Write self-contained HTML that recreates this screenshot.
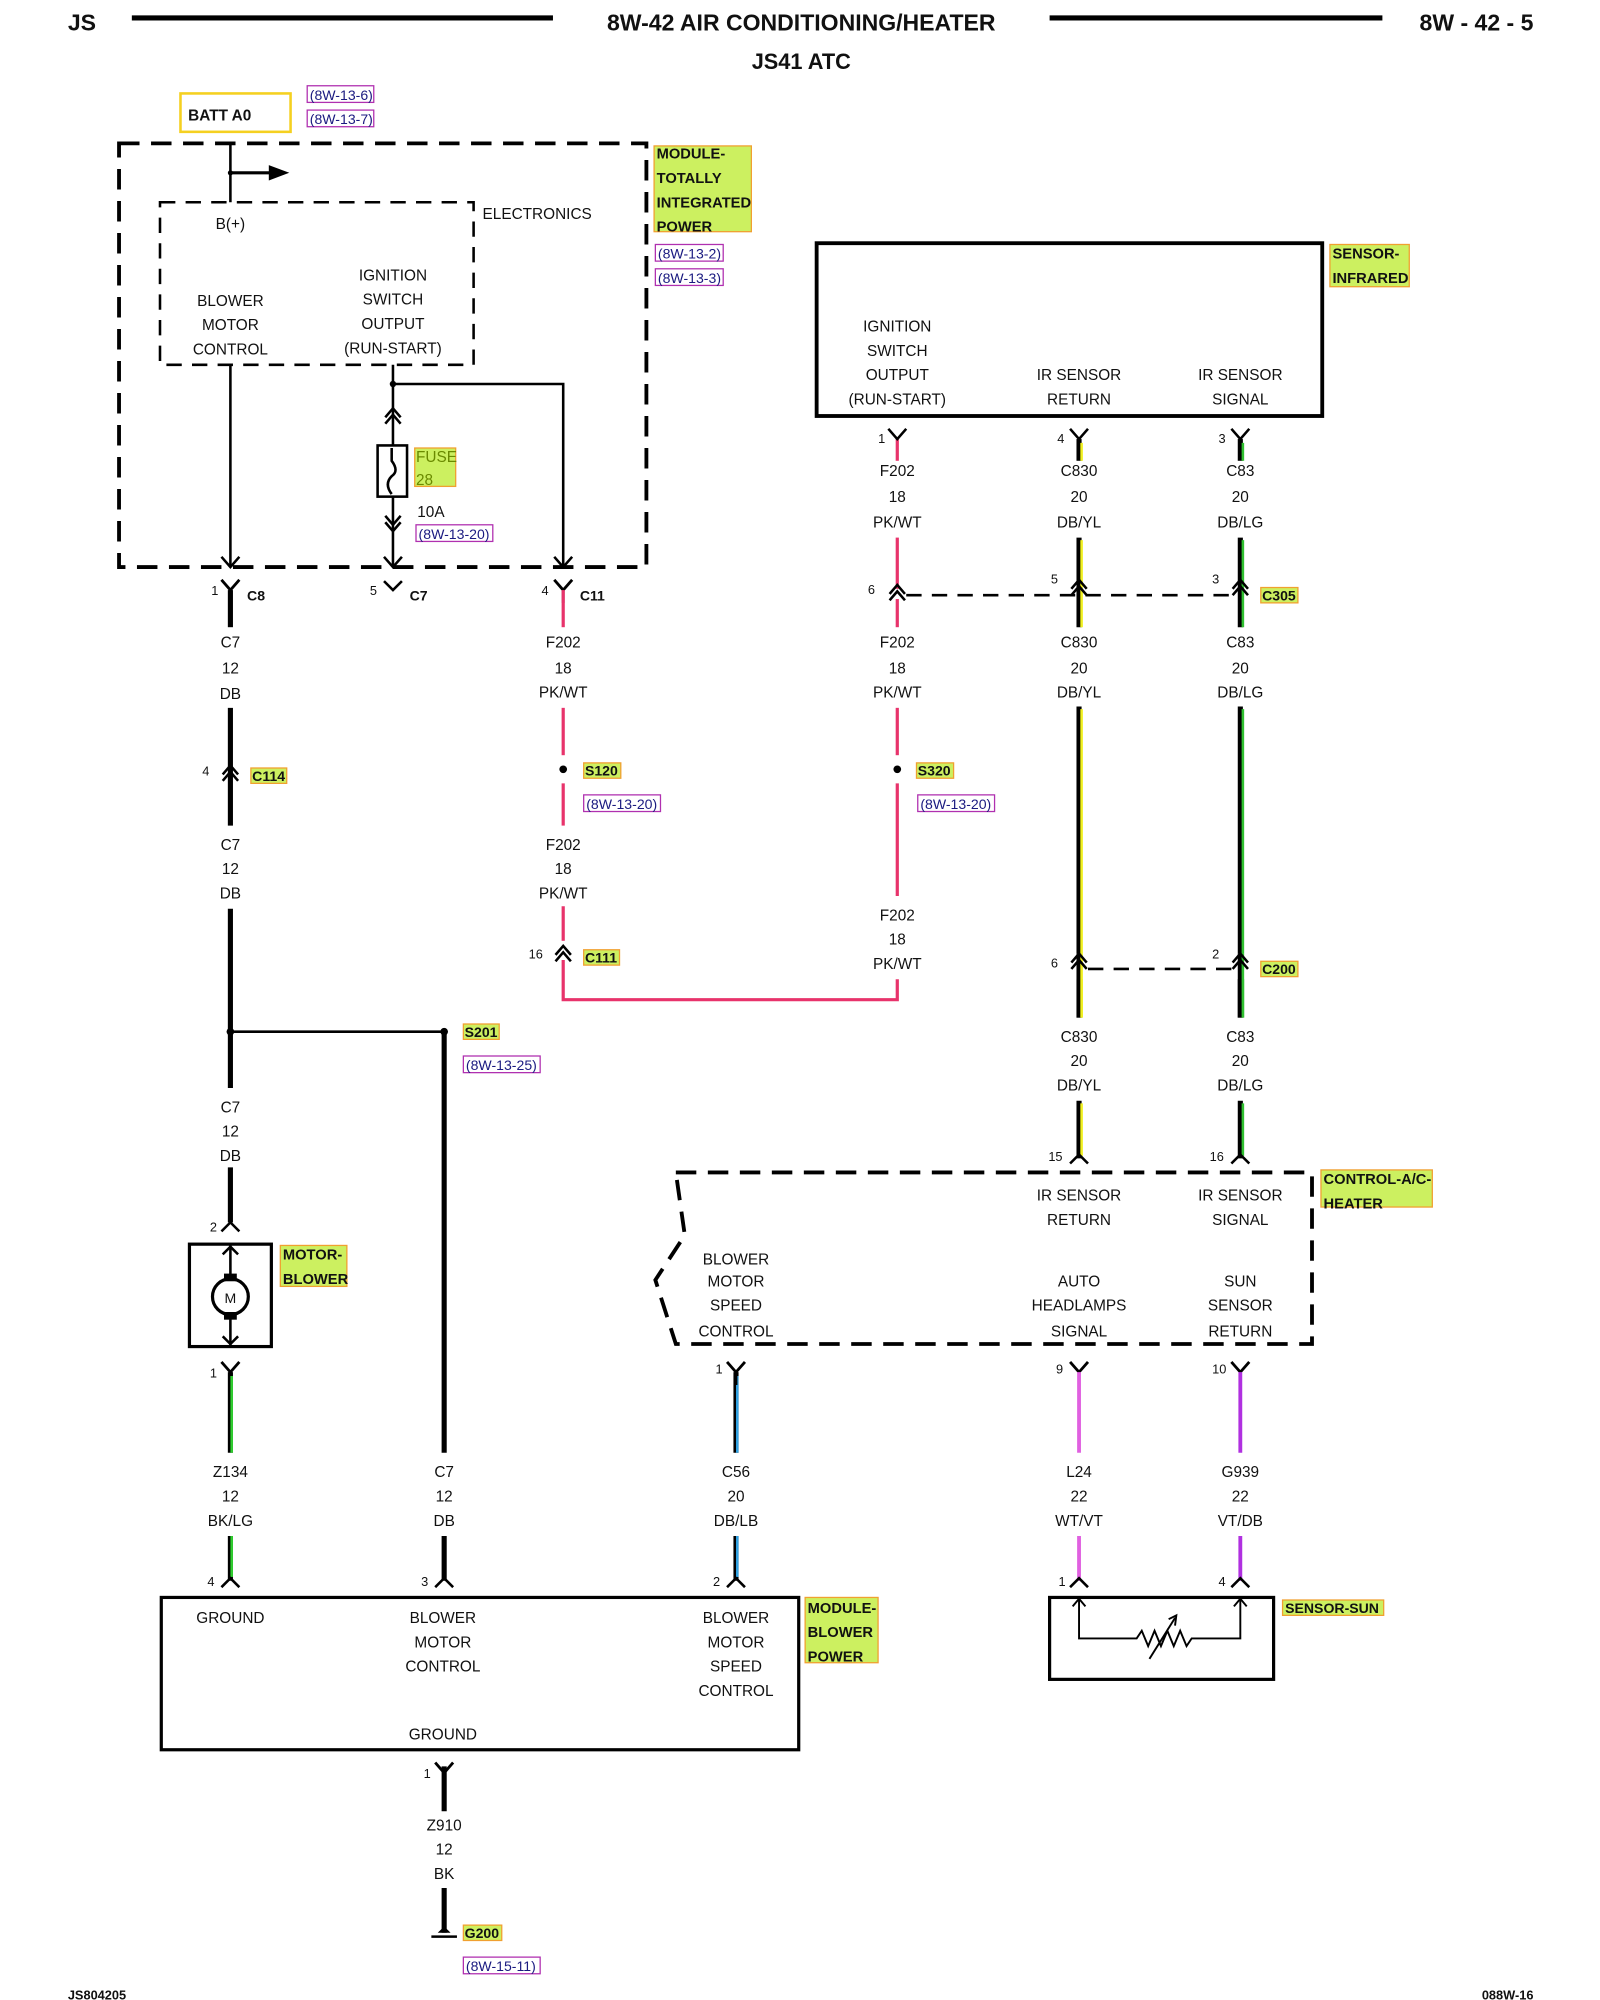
<!DOCTYPE html>
<html><head><meta charset="utf-8"><style>
html,body{margin:0;padding:0;background:#fff}
svg{display:block}
text{font-family:"Liberation Sans",sans-serif;font-size:12px;fill:#111}
.c{text-anchor:middle}
.b{font-weight:bold}
.lbl{font-weight:bold;font-size:11.5px}
.ref{font-size:11px;fill:#1a1a80}
</style></head><body>
<svg width="1600" height="2000" viewBox="0 0 1250 1562.5" xmlns="http://www.w3.org/2000/svg">
<defs>
<g id="yc"><path d="M-7,-8 L0,0 L7,-8 M0,0 V10" stroke="#000" stroke-width="2.2" fill="none"/></g>
<g id="ch"><path d="M-6,4 L0,-3 L6,4 M-6,9 L0,2 L6,9" stroke="#000" stroke-width="2" fill="none"/></g>
<g id="chd"><path d="M-6,-4 L0,3 L6,-4 M-6,-9 L0,-2 L6,-9" stroke="#000" stroke-width="2" fill="none"/></g>
</defs>
<!-- header -->
<text x="53" y="24" class="b" font-size="18" style="font-size:18px">JS</text>
<line x1="103" y1="14" x2="432" y2="14" stroke="#000" stroke-width="4"/>
<text x="626" y="24" class="c b" style="font-size:18px">8W-42 AIR CONDITIONING/HEATER</text>
<line x1="820" y1="14" x2="1080" y2="14" stroke="#000" stroke-width="4"/>
<text x="1198" y="24" class="b" style="font-size:18px" text-anchor="end">8W - 42 - 5</text>
<text x="626" y="54" class="c b" style="font-size:17px">JS41 ATC</text>

<!-- BATT -->
<rect x="141" y="73" width="86" height="30" fill="none" stroke="#f5d020" stroke-width="2"/>
<text x="147" y="94" class="b" style="font-size:12px">BATT A0</text>
<rect x="240" y="67" width="52" height="13" fill="none" stroke="#b030b0"/><text x="242" y="78" class="ref">(8W-13-6)</text>
<rect x="240" y="86" width="52" height="13" fill="none" stroke="#b030b0"/><text x="242" y="97" class="ref">(8W-13-7)</text>

<!-- TIPM -->
<rect x="93" y="112" width="412" height="331" fill="none" stroke="#000" stroke-width="3" stroke-dasharray="16,9"/>
<rect x="125" y="158" width="245" height="127" fill="none" stroke="#000" stroke-width="2" stroke-dasharray="12,8"/>
<text x="377" y="171">ELECTRONICS</text>
<rect x="511" y="114" width="76" height="67" fill="#ccf060" stroke="#f0a030"/>
<text x="513" y="124" class="lbl">MODULE-</text><text x="513" y="143" class="lbl">TOTALLY</text><text x="513" y="162" class="lbl">INTEGRATED</text><text x="513" y="181" class="lbl">POWER</text>
<rect x="512" y="191" width="53" height="13" fill="none" stroke="#b030b0"/><text x="514" y="202" class="ref">(8W-13-2)</text>
<rect x="512" y="210" width="53" height="13" fill="none" stroke="#b030b0"/><text x="514" y="221" class="ref">(8W-13-3)</text>
<line x1="180" y1="112" x2="180" y2="158" stroke="#000" stroke-width="2"/>
<line x1="180" y1="135" x2="212" y2="135" stroke="#000" stroke-width="2.5"/>
<path d="M210,129 L226,135 L210,141Z"/>
<circle cx="180" cy="135" r="2"/>
<text x="180" y="179" class="c">B(+)</text>
<text x="180" y="239" class="c">BLOWER</text><text x="180" y="258" class="c">MOTOR</text><text x="180" y="277" class="c">CONTROL</text>
<text x="307" y="219" class="c">IGNITION</text><text x="307" y="238" class="c">SWITCH</text><text x="307" y="257" class="c">OUTPUT</text><text x="307" y="276" class="c">(RUN-START)</text>
<g stroke="#000" stroke-width="2" fill="none">
<line x1="180" y1="285" x2="180" y2="443"/><path d="M173,435 L180,443 L187,435"/>
<line x1="307" y1="285" x2="307" y2="443"/><path d="M300,435 L307,443 L314,435"/>
<polyline points="307,300 440,300 440,443"/><path d="M433,435 L440,443 L447,435"/>
<rect x="295" y="348" width="23" height="40" fill="#fff"/>
<path d="M306,350 V360 Q312,368 306,372 Q300,378 306,386"/>
</g>
<circle cx="307" cy="300" r="2.5"/>
<use href="#ch" x="307" y="322"/><use href="#chd" x="307" y="412"/>
<rect x="324" y="350" width="32" height="30" fill="#ccf060" stroke="#f0a030"/>
<text x="325" y="361" style="fill:#6a8a00">FUSE</text><text x="325" y="379" style="fill:#6a8a00">28</text>
<text x="326" y="404">10A</text>
<rect x="325" y="410" width="60" height="13" fill="none" stroke="#b030b0"/><text x="327" y="421" class="ref">(8W-13-20)</text>

<!-- connectors under TIPM -->
<use href="#yc" x="180" y="461"/><text x="165" y="465" style="font-size:10px">1</text><text x="193" y="469" class="b" style="font-size:11px">C8</text>
<path d="M300,454 L307,461 L314,454" stroke="#000" stroke-width="2" fill="none"/><text x="289" y="465" style="font-size:10px">5</text><text x="320" y="469" class="b" style="font-size:11px">C7</text>
<use href="#yc" x="440" y="461"/><text x="423" y="465" style="font-size:10px">4</text><text x="453" y="469" class="b" style="font-size:11px">C11</text>

<!-- x=180 black wire -->
<g stroke="#000" stroke-width="4">
<line x1="180" y1="461" x2="180" y2="490"/>
<line x1="180" y1="553" x2="180" y2="645"/>
<line x1="180" y1="710" x2="180" y2="850"/>
<line x1="180" y1="912" x2="180" y2="955"/>
<line x1="347" y1="806" x2="347" y2="1135"/>
<line x1="347" y1="1200" x2="347" y2="1235"/>
<line x1="347" y1="1380" x2="347" y2="1415"/>
<line x1="347" y1="1475" x2="347" y2="1510"/>
</g>
<line x1="180" y1="806" x2="347" y2="806" stroke="#000" stroke-width="2"/>
<circle cx="180" cy="806" r="3"/><circle cx="347" cy="806" r="3"/>
<text x="180" y="506" class="c">C7</text><text x="180" y="526" class="c">12</text><text x="180" y="546" class="c">DB</text>
<use href="#ch" x="180" y="601"/><text x="158" y="606" style="font-size:10px">4</text>
<rect x="196" y="600" width="28" height="12" fill="#ccf060" stroke="#f0a030"/><text x="197" y="610" class="lbl" style="font-size:11px">C114</text>
<text x="180" y="664" class="c">C7</text><text x="180" y="683" class="c">12</text><text x="180" y="702" class="c">DB</text>
<rect x="362" y="800" width="28" height="12" fill="#ccf060" stroke="#f0a030"/><text x="363" y="810" class="lbl" style="font-size:11px">S201</text>
<rect x="362" y="825" width="60" height="13" fill="none" stroke="#b030b0"/><text x="364" y="836" class="ref">(8W-13-25)</text>
<text x="180" y="869" class="c">C7</text><text x="180" y="888" class="c">12</text><text x="180" y="907" class="c">DB</text>
<path d="M173,962 L180,955 L187,962" stroke="#000" stroke-width="2" fill="none"/><text x="164" y="962" style="font-size:10px">2</text>

<!-- motor -->
<rect x="148" y="972" width="64" height="80" fill="none" stroke="#000" stroke-width="2.5"/>
<line x1="180" y1="972" x2="180" y2="1052" stroke="#000" stroke-width="2"/>
<path d="M174,980 L180,974 L186,980 M174,1044 L180,1050 L186,1044" stroke="#000" stroke-width="2" fill="none"/>
<circle cx="180" cy="1013" r="14" fill="#fff" stroke="#000" stroke-width="2.5"/>
<rect x="175" y="995" width="10" height="6"/><rect x="175" y="1025" width="10" height="6"/>
<text x="180" y="1018" class="c" style="font-size:11px">M</text>
<rect x="219" y="973" width="52" height="32" fill="#ccf060" stroke="#f0a030"/>
<text x="221" y="984" class="lbl">MOTOR-</text><text x="221" y="1003" class="lbl">BLOWER</text>
<use href="#yc" x="180" y="1072"/><text x="164" y="1076" style="font-size:10px">1</text>
<line x1="180" y1="1072" x2="180" y2="1135" stroke="#000" stroke-width="4"/><line x1="181" y1="1075" x2="181" y2="1135" stroke="#30d030" stroke-width="2"/>
<text x="180" y="1154" class="c">Z134</text><text x="180" y="1173" class="c">12</text><text x="180" y="1192" class="c">BK/LG</text>
<line x1="180" y1="1200" x2="180" y2="1235" stroke="#000" stroke-width="4"/><line x1="181" y1="1200" x2="181" y2="1232" stroke="#30d030" stroke-width="2"/>
<text x="347" y="1154" class="c">C7</text><text x="347" y="1173" class="c">12</text><text x="347" y="1192" class="c">DB</text>
<line x1="575" y1="1072" x2="575" y2="1135" stroke="#000" stroke-width="4"/><line x1="576" y1="1075" x2="576" y2="1135" stroke="#30a0e0" stroke-width="2"/>
<text x="575" y="1154" class="c">C56</text><text x="575" y="1173" class="c">20</text><text x="575" y="1192" class="c">DB/LB</text>
<line x1="575" y1="1200" x2="575" y2="1235" stroke="#000" stroke-width="4"/><line x1="576" y1="1200" x2="576" y2="1232" stroke="#30a0e0" stroke-width="2"/>
<use href="#yc" x="575" y="1072"/><text x="559" y="1073" style="font-size:10px">1</text>
<g stroke="#000" stroke-width="2" fill="none">
<path d="M173,1240 L180,1233 L187,1240"/><path d="M340,1240 L347,1233 L354,1240"/><path d="M568,1240 L575,1233 L582,1240"/>
</g>
<text x="162" y="1239" style="font-size:10px">4</text><text x="329" y="1239" style="font-size:10px">3</text><text x="557" y="1239" style="font-size:10px">2</text>

<!-- blower module -->
<rect x="126" y="1248" width="498" height="119" fill="none" stroke="#000" stroke-width="2.5"/>
<text x="180" y="1268" class="c">GROUND</text>
<text x="346" y="1268" class="c">BLOWER</text><text x="346" y="1287" class="c">MOTOR</text><text x="346" y="1306" class="c">CONTROL</text>
<text x="575" y="1268" class="c">BLOWER</text><text x="575" y="1287" class="c">MOTOR</text><text x="575" y="1306" class="c">SPEED</text><text x="575" y="1325" class="c">CONTROL</text>
<text x="346" y="1359" class="c">GROUND</text>
<rect x="629" y="1248" width="57" height="51" fill="#ccf060" stroke="#f0a030"/>
<text x="631" y="1260" class="lbl">MODULE-</text><text x="631" y="1279" class="lbl">BLOWER</text><text x="631" y="1298" class="lbl">POWER</text>
<use href="#yc" x="347" y="1385"/><text x="331" y="1389" style="font-size:10px">1</text>
<text x="347" y="1430" class="c">Z910</text><text x="347" y="1449" class="c">12</text><text x="347" y="1468" class="c">BK</text>
<line x1="337" y1="1513" x2="357" y2="1513" stroke="#000" stroke-width="2"/><path d="M342,1510 L347,1505 L352,1510Z"/>
<rect x="362" y="1504" width="30" height="12" fill="#ccf060" stroke="#f0a030"/><text x="363" y="1514" class="lbl" style="font-size:11px">G200</text>
<rect x="362" y="1529" width="60" height="13" fill="none" stroke="#b030b0"/><text x="364" y="1540" class="ref">(8W-15-11)</text>

<!-- pink x=440 -->
<g stroke="#e8336b" stroke-width="2.5" fill="none">
<line x1="440" y1="461" x2="440" y2="490"/>
<line x1="440" y1="553" x2="440" y2="590"/>
<line x1="440" y1="612" x2="440" y2="645"/>
<line x1="440" y1="708" x2="440" y2="735"/>
<polyline points="440,750 440,781 701,781 701,765"/>
<line x1="701" y1="343" x2="701" y2="360"/>
<line x1="701" y1="420" x2="701" y2="460"/>
<line x1="701" y1="468" x2="701" y2="490"/>
<line x1="701" y1="553" x2="701" y2="590"/>
<line x1="701" y1="612" x2="701" y2="700"/>
</g>
<text x="440" y="506" class="c">F202</text><text x="440" y="526" class="c">18</text><text x="440" y="545" class="c">PK/WT</text>
<circle cx="440" cy="601" r="3"/>
<rect x="456" y="596" width="29" height="12" fill="#ccf060" stroke="#f0a030"/><text x="457" y="606" class="lbl" style="font-size:11px">S120</text>
<rect x="456" y="621" width="60" height="13" fill="none" stroke="#b030b0"/><text x="458" y="632" class="ref">(8W-13-20)</text>
<text x="440" y="664" class="c">F202</text><text x="440" y="683" class="c">18</text><text x="440" y="702" class="c">PK/WT</text>
<use href="#ch" x="440" y="742"/><text x="413" y="749" style="font-size:10px">16</text>
<rect x="456" y="742" width="28" height="12" fill="#ccf060" stroke="#f0a030"/><text x="457" y="752" class="lbl" style="font-size:11px">C111</text>

<!-- sensor infrared -->
<rect x="638" y="190" width="395" height="135" fill="none" stroke="#000" stroke-width="3"/>
<text x="701" y="259" class="c">IGNITION</text><text x="701" y="278" class="c">SWITCH</text><text x="701" y="297" class="c">OUTPUT</text><text x="701" y="316" class="c">(RUN-START)</text>
<text x="843" y="297" class="c">IR SENSOR</text><text x="843" y="316" class="c">RETURN</text>
<text x="969" y="297" class="c">IR SENSOR</text><text x="969" y="316" class="c">SIGNAL</text>
<rect x="1039" y="191" width="62" height="33" fill="#ccf060" stroke="#f0a030"/>
<text x="1041" y="202" class="lbl">SENSOR-</text><text x="1041" y="221" class="lbl">INFRARED</text>
<g stroke="#000" stroke-width="2" fill="none">
<path d="M694,335 L701,343 L708,335 M836,335 L843,343 L850,335 M962,335 L969,343 L976,335"/>
</g>
<text x="686" y="346" style="font-size:10px">1</text><text x="826" y="346" style="font-size:10px">4</text><text x="952" y="346" style="font-size:10px">3</text>
<text x="701" y="372" class="c">F202</text><text x="701" y="392" class="c">18</text><text x="701" y="412" class="c">PK/WT</text>
<text x="843" y="372" class="c">C830</text><text x="843" y="392" class="c">20</text><text x="843" y="412" class="c">DB/YL</text>
<text x="969" y="372" class="c">C83</text><text x="969" y="392" class="c">20</text><text x="969" y="412" class="c">DB/LG</text>

<!-- yellow and green wires -->
<g stroke="#000" stroke-width="4">
<line x1="843" y1="343" x2="843" y2="360"/><line x1="969" y1="343" x2="969" y2="360"/>
<line x1="843" y1="420" x2="843" y2="490"/><line x1="969" y1="420" x2="969" y2="490"/>
<line x1="843" y1="552" x2="843" y2="795"/><line x1="969" y1="552" x2="969" y2="795"/>
<line x1="843" y1="860" x2="843" y2="905"/><line x1="969" y1="860" x2="969" y2="905"/>
</g>
<g stroke-width="2">
<g stroke="#f0f020">
<line x1="845" y1="346" x2="845" y2="360"/><line x1="845" y1="422" x2="845" y2="490"/><line x1="845" y1="554" x2="845" y2="795"/><line x1="845" y1="862" x2="845" y2="903"/>
</g>
<g stroke="#30c030">
<line x1="971" y1="346" x2="971" y2="360"/><line x1="971" y1="422" x2="971" y2="490"/><line x1="971" y1="554" x2="971" y2="795"/><line x1="971" y1="862" x2="971" y2="903"/>
</g>
</g>
<!-- C305 -->
<line x1="708" y1="465" x2="963" y2="465" stroke="#000" stroke-width="2" stroke-dasharray="12,8"/>
<use href="#ch" x="701" y="460"/><use href="#ch" x="843" y="456"/><use href="#ch" x="969" y="456"/>
<text x="678" y="464" style="font-size:10px">6</text><text x="821" y="456" style="font-size:10px">5</text><text x="947" y="456" style="font-size:10px">3</text>
<rect x="985" y="459" width="29" height="12" fill="#ccf060" stroke="#f0a030"/><text x="986" y="469" class="lbl" style="font-size:11px">C305</text>
<text x="701" y="506" class="c">F202</text><text x="701" y="526" class="c">18</text><text x="701" y="545" class="c">PK/WT</text>
<text x="843" y="506" class="c">C830</text><text x="843" y="526" class="c">20</text><text x="843" y="545" class="c">DB/YL</text>
<text x="969" y="506" class="c">C83</text><text x="969" y="526" class="c">20</text><text x="969" y="545" class="c">DB/LG</text>
<circle cx="701" cy="601" r="3"/>
<rect x="716" y="596" width="29" height="12" fill="#ccf060" stroke="#f0a030"/><text x="717" y="606" class="lbl" style="font-size:11px">S320</text>
<rect x="717" y="621" width="60" height="13" fill="none" stroke="#b030b0"/><text x="719" y="632" class="ref">(8W-13-20)</text>
<text x="701" y="719" class="c">F202</text><text x="701" y="738" class="c">18</text><text x="701" y="757" class="c">PK/WT</text>
<!-- C200 -->
<rect x="836" y="745" width="140" height="20" fill="#fff"/>
<line x1="850" y1="757" x2="963" y2="757" stroke="#000" stroke-width="2" stroke-dasharray="12,8"/>
<g stroke="#000" stroke-width="4"><line x1="843" y1="745" x2="843" y2="795"/><line x1="969" y1="745" x2="969" y2="795"/></g>
<g stroke-width="2"><line x1="845" y1="745" x2="845" y2="795" stroke="#f0f020"/><line x1="971" y1="745" x2="971" y2="795" stroke="#30c030"/></g>
<use href="#ch" x="843" y="748"/><use href="#ch" x="969" y="748"/>
<text x="821" y="756" style="font-size:10px">6</text><text x="947" y="749" style="font-size:10px">2</text>
<rect x="985" y="751" width="29" height="12" fill="#ccf060" stroke="#f0a030"/><text x="986" y="761" class="lbl" style="font-size:11px">C200</text>
<text x="843" y="814" class="c">C830</text><text x="843" y="833" class="c">20</text><text x="843" y="852" class="c">DB/YL</text>
<text x="969" y="814" class="c">C83</text><text x="969" y="833" class="c">20</text><text x="969" y="852" class="c">DB/LG</text>
<path d="M836,909 L843,902 L850,909 M962,909 L969,902 L976,909" stroke="#000" stroke-width="2" fill="none"/>
<text x="819" y="907" style="font-size:10px">15</text><text x="945" y="907" style="font-size:10px">16</text>

<!-- control AC heater -->
<polyline points="528,916 1025,916 1025,1050 528,1050 512,1000 535,965 528,916" fill="none" stroke="#000" stroke-width="3" stroke-dasharray="16,9"/>
<rect x="1032" y="914" width="87" height="29" fill="#ccf060" stroke="#f0a030"/>
<text x="1034" y="925" class="lbl">CONTROL-A/C-</text><text x="1034" y="944" class="lbl">HEATER</text>
<text x="843" y="938" class="c">IR SENSOR</text><text x="843" y="957" class="c">RETURN</text>
<text x="969" y="938" class="c">IR SENSOR</text><text x="969" y="957" class="c">SIGNAL</text>
<text x="575" y="988" class="c">BLOWER</text><text x="575" y="1005" class="c">MOTOR</text><text x="575" y="1024" class="c">SPEED</text><text x="575" y="1044" class="c">CONTROL</text>
<text x="843" y="1005" class="c">AUTO</text><text x="843" y="1024" class="c">HEADLAMPS</text><text x="843" y="1044" class="c">SIGNAL</text>
<text x="969" y="1005" class="c">SUN</text><text x="969" y="1024" class="c">SENSOR</text><text x="969" y="1044" class="c">RETURN</text>
<use href="#yc" x="843" y="1072"/><text x="825" y="1073" style="font-size:10px">9</text>
<use href="#yc" x="969" y="1072"/><text x="947" y="1073" style="font-size:10px">10</text>
<g stroke-width="3"><line x1="843" y1="1072" x2="843" y2="1135" stroke="#e060e0"/><line x1="969" y1="1072" x2="969" y2="1135" stroke="#b030e0"/>
<line x1="843" y1="1200" x2="843" y2="1235" stroke="#e060e0"/><line x1="969" y1="1200" x2="969" y2="1235" stroke="#b030e0"/></g>
<text x="843" y="1154" class="c">L24</text><text x="843" y="1173" class="c">22</text><text x="843" y="1192" class="c">WT/VT</text>
<text x="969" y="1154" class="c">G939</text><text x="969" y="1173" class="c">22</text><text x="969" y="1192" class="c">VT/DB</text>
<path d="M836,1240 L843,1233 L850,1240 M962,1240 L969,1233 L976,1240" stroke="#000" stroke-width="2" fill="none"/>
<text x="827" y="1239" style="font-size:10px">1</text><text x="952" y="1239" style="font-size:10px">4</text>
<rect x="820" y="1248" width="175" height="64" fill="none" stroke="#000" stroke-width="2.5"/>
<g stroke="#000" stroke-width="1.5" fill="none">
<polyline points="843,1250 843,1280 888,1280 892,1274 897,1286 902,1274 907,1286 912,1274 917,1286 922,1274 927,1286 931,1280 969,1280 969,1250"/>
<path d="M838,1255 L843,1249 L848,1255 M964,1255 L969,1249 L974,1255"/>
<line x1="898" y1="1296" x2="918" y2="1264"/><path d="M913,1265 L919,1262 L918,1270"/>
</g>
<rect x="1002" y="1250" width="79" height="12" fill="#ccf060" stroke="#f0a030"/><text x="1004" y="1260" class="lbl" style="font-size:11px">SENSOR-SUN</text>

<!-- footer -->
<text x="53" y="1562" class="b" style="font-size:10px">JS804205</text>
<text x="1198" y="1562" class="b" style="font-size:10px" text-anchor="end">088W-16</text>
</svg>
</body></html>
